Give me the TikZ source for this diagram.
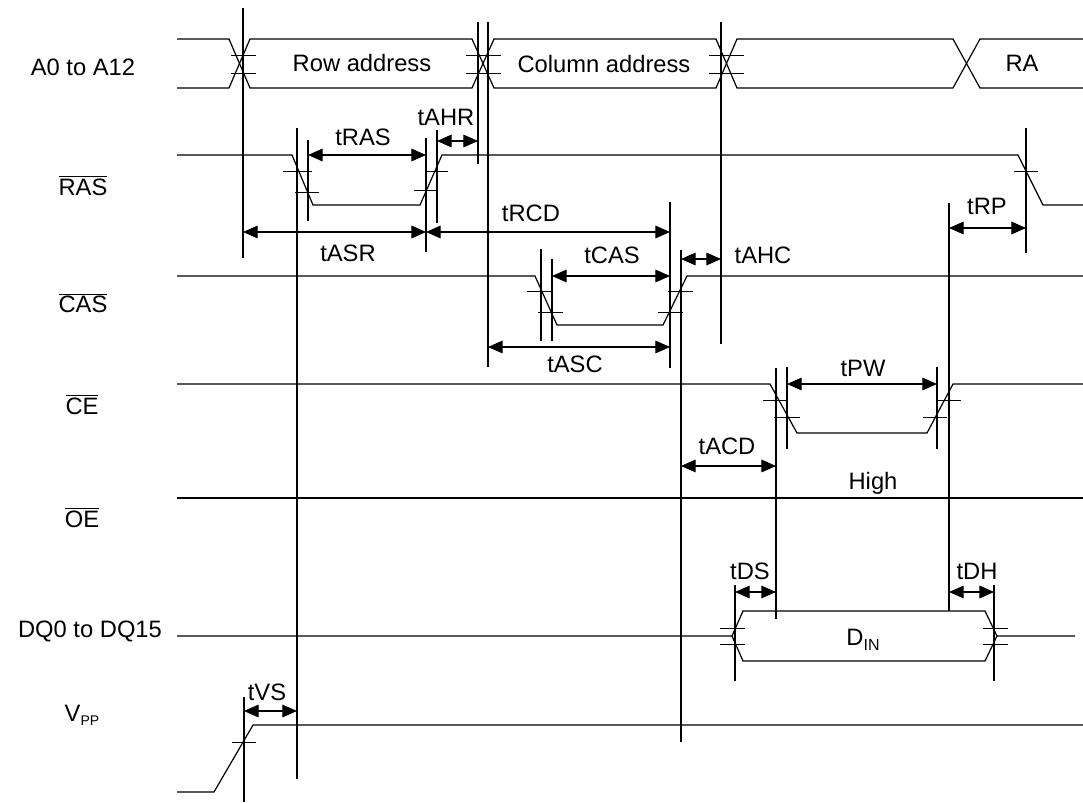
\documentclass[tikz,border=0pt]{standalone}
\usepackage{fontspec}
\setmainfont{Liberation Sans}
\usetikzlibrary{arrows.meta}
\begin{document}
\begin{tikzpicture}[x=0.75pt,y=-0.75pt,
  sig/.style={line width=0.9pt, line join=miter},
  refline/.style={line width=0.8pt},
  tickmark/.style={line width=0.75pt},
  dim/.style={line width=0.9pt, {Triangle[length=11pt,width=9.5pt]}-{Triangle[length=11pt,width=9.5pt]}},
  lbl/.style={font=\fontsize{17.8}{20}\selectfont, inner sep=0pt, anchor=base},
]
\useasboundingbox (0,0) rectangle (1083,803);

% ---------- signal names ----------
\node[lbl] (nA)  at (83,75)   {A0 to A12};
\node[lbl] (nR)  at (83,195)  {$\overline{\mbox{RAS}}$};
\node[lbl] (nC)  at (83,312.5){$\overline{\mbox{CAS}}$};
\node[lbl] (nCE) at (82,414)  {$\overline{\mbox{CE}}$};
\node[lbl] (nOE) at (82,527)  {$\overline{\mbox{OE}}$};
\node[lbl] (nDQ) at (90,637)  {DQ0 to DQ15};
\node[lbl] (nV)  at (82,721.5){V\raisebox{-3pt}{\fontsize{10.5}{11}\selectfont PP}};

% ---------- address bus ----------
\draw[sig] (177,39) -- (229,39) -- (250,88) -- (472,88) -- (494,39) -- (716,39) -- (737,88) -- (953,88) -- (980,39) -- (1083,39);
\draw[sig] (177,88) -- (229,88) -- (250,39) -- (472,39) -- (494,88) -- (716,88) -- (737,39) -- (953,39) -- (980,88) -- (1083,88);
\foreach \a/\b in {231/256, 466/501, 709/744} {
  \draw[tickmark] (\a,55.5) -- (\b,55.5);
  \draw[tickmark] (\a,73) -- (\b,73);
}
\node[lbl] (trow) at (362,71.7) {Row address};
\node[lbl] (tcol) at (604,72.5) {Column address};
\node[lbl] (tra)  at (1022,71.7) {RA};

% ---------- RAS ----------
\draw[sig] (177,155) -- (292,155) -- (313,205) -- (420,205) -- (442,155) -- (1018,155) -- (1043,205) -- (1083,205);
\draw[tickmark] (283,171) -- (312,171);
\draw[tickmark] (295,192) -- (319,192);
\draw[tickmark] (425,171) -- (448,171);
\draw[tickmark] (414,190) -- (438,190);
\draw[tickmark] (1014,171) -- (1038,171);

% ---------- CAS ----------
\draw[sig] (177,276) -- (535,276) -- (557,325) -- (663,325) -- (687,276) -- (1083,276);
\draw[tickmark] (527,291) -- (552,291);
\draw[tickmark] (538,312) -- (563,312);
\draw[tickmark] (668,291) -- (693,291);
\draw[tickmark] (658,312) -- (683,312);

% ---------- CE ----------
\draw[sig] (177,384) -- (770,384) -- (797,433) -- (927,433) -- (953,384) -- (1083,384);
\draw[tickmark] (763,400) -- (788,400);
\draw[tickmark] (774,417) -- (800,417);
\draw[tickmark] (937,400) -- (961,400);
\draw[tickmark] (923,417) -- (947,417);

% ---------- OE ----------
\draw[sig] (177,498) -- (1083,498);
\node[lbl] (thigh) at (873,489) {High};

% ---------- DQ ----------
\draw[sig] (177,636) -- (732,636) -- (743,611) -- (985,611) -- (997,636) -- (1075,636);
\draw[sig] (732,636) -- (743,661) -- (985,661) -- (997,636);
\draw[tickmark] (720,628) -- (745,628);
\draw[tickmark] (720,644) -- (745,644);
\draw[tickmark] (983,628) -- (1008,628);
\draw[tickmark] (983,644) -- (1008,644);
\node[lbl] (tdin) at (863,645) {D\raisebox{-4pt}{\fontsize{12}{12}\selectfont IN}};

% ---------- VPP ----------
\draw[sig] (177,792) -- (214,792) -- (253,725) -- (1083,725);
\draw[tickmark] (232,742) -- (256,742);

% ---------- reference lines ----------
\foreach \x/\ya/\yb in {243/8/258, 478/22/164, 488/22/367, 721/22/344,
  297/128/779, 308/140/221, 426/138/252, 437/130/223, 670/202/368,
  541/249/341, 552/259/341, 681/250/742, 776/368/619, 787/367/449,
  937/367/449, 949/203/611, 1026/128/253, 735/585/681, 994/585/681,
  244/697/802}
  \draw[refline] (\x,\ya) -- (\x,\yb);

% ---------- timing dimensions ----------
\draw[dim] (308,155) -- (426,155);  \node[lbl] at (363,145) {tRAS};
\draw[dim] (437,141) -- (478,141);  \node[lbl] at (446,125) {tAHR};
\draw[dim] (243,232) -- (426,232);  \node[lbl] at (348,261) {tASR};
\draw[dim] (426,232) -- (670,232);  \node[lbl] at (531,221) {tRCD};
\draw[dim] (552,276) -- (670,276);  \node[lbl] at (612,263) {tCAS};
\draw[dim] (681,259) -- (721,259);  \node[lbl] at (763,263) {tAHC};
\draw[dim] (488,347) -- (670,347);  \node[lbl] at (575,372.5) {tASC};
\draw[dim] (787,384) -- (937,384);  \node[lbl] at (863,376) {tPW};
\draw[dim] (681,466) -- (776,466);  \node[lbl] at (727,454) {tACD};
\draw[dim] (949,228) -- (1026,228); \node[lbl] at (987,214) {tRP};
\draw[dim] (735,592) -- (776,592);  \node[lbl] at (750,579) {tDS};
\draw[dim] (949,592) -- (994,592);  \node[lbl] at (977,579) {tDH};
\draw[dim] (244,711) -- (297,711);  \node[lbl] at (267,700) {tVS};
\end{tikzpicture}
\end{document}
